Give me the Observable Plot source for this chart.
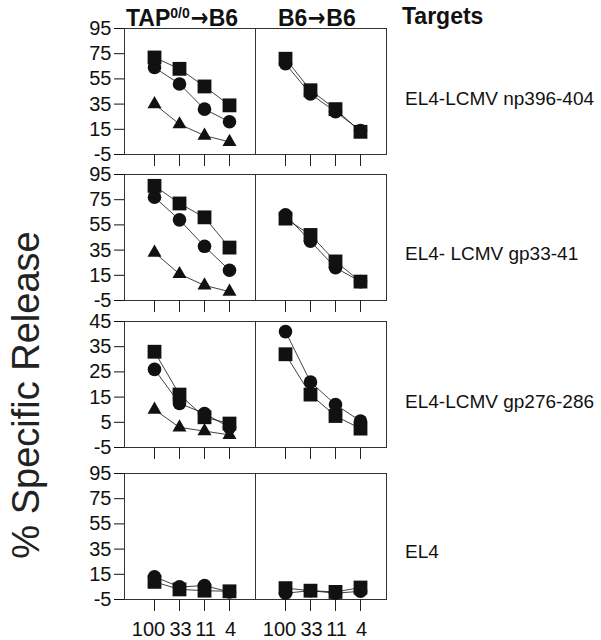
<!DOCTYPE html>
<html>
<head>
<meta charset="utf-8">
<script src="https://cdn.jsdelivr.net/npm/d3@7"></script>
<script src="https://cdn.jsdelivr.net/npm/@observablehq/plot@0.6"></script>
<style>
  html, body { margin: 0; padding: 0; background: white; }
  #wrap { position: relative; width: 601px; height: 640px; overflow: hidden; font-family: "Liberation Sans", Arial, sans-serif; color: #111; }
  .abs { position: absolute; white-space: nowrap; line-height: 1; }
  .head { font-weight: bold; font-size: 23px; }
  .arrow { font-family: "DejaVu Sans", sans-serif; font-weight: bold; font-size: 25px; display: inline-block; transform: scaleX(0.85); margin: 0 -1px; }
  .lab { font-size: 19px; }
  sup { font-size: 14px; vertical-align: 8px; line-height: 0; }
</style>
</head>
<body>
<div id="wrap">
  <div class="abs head" style="left:126px; top:5px;">TAP<sup>0/0</sup><span class="arrow">→</span>B6</div>
  <div class="abs head" style="left:278px; top:5px;">B6<span class="arrow">→</span>B6</div>
  <div class="abs head" style="left:402px; top:5px;">Targets</div>
  <div class="abs lab" style="left:405px; top:89px;">EL4-LCMV np396-404</div>
  <div class="abs lab" style="left:405px; top:244px;">EL4- LCMV gp33-41</div>
  <div class="abs lab" style="left:405px; top:392px;">EL4-LCMV gp276-286</div>
  <div class="abs lab" style="left:405px; top:542px;">EL4</div>
  <div class="abs" style="left:26px; top:395px; font-size:38px; color:#222; transform: translate(-50%,-50%) rotate(-90deg);">% Specific Release</div>
</div>
<script>
// Categories
const doses = ["100", "33", "11", "4"];
const donors = ["TAP0/0→B6", "B6→B6"];
const ticksWide = [-5, 15, 35, 55, 75, 95];
const ticksNarrow = [-5, 5, 15, 25, 35, 45];

// EL4-LCMV np396-404
const npTapSquare   = [72, 63, 49, 34];
const npTapCircle   = [64, 51, 31, 21];
const npTapTriangle = [35, 19, 10, 5];
const npB6Square    = [71, 46, 31, 13];
const npB6Circle    = [67, 43, 29, 14];

// EL4- LCMV gp33-41
const gpTapSquare   = [86, 72, 61, 37];
const gpTapCircle   = [77, 59, 38, 19];
const gpTapTriangle = [33, 16, 7, 2];
const gpB6Square    = [60, 47, 26, 10];
const gpB6Circle    = [63, 42, 21, 10];

// EL4-LCMV gp276-286
const g276TapSquare   = [33, 16, 7, 4.5];
const g276TapCircle   = [26, 12.5, 8.5, 3];
const g276TapTriangle = [10, 3, 1.5, 0];
const g276B6Square    = [32, 16, 7.5, 2.5];
const g276B6Circle    = [41, 21, 12, 5.5];

// EL4
const el4TapSquare = [9, 3, 2, 1.5];
const el4TapCircle = [13, 5, 6, 1];
const el4B6Square  = [4, 2, 1, 4.5];
const el4B6Circle  = [0, 2, 0, 1.5];

function build(spec) {
  const rows = [];
  for (const [donor, series, values] of spec) {
    values.forEach((v, i) => rows.push({donor, series, dose: doses[i], value: v}));
  }
  return rows;
}

const rowSpecs = [
  {top: 28, domain: [-5, 95], ticks: ticksWide, showX: false, rows: build([
    [donors[0], "square", npTapSquare], [donors[0], "circle", npTapCircle], [donors[0], "triangle", npTapTriangle],
    [donors[1], "square", npB6Square], [donors[1], "circle", npB6Circle]])},
  {top: 174, domain: [-5, 95], ticks: ticksWide, showX: false, rows: build([
    [donors[0], "square", gpTapSquare], [donors[0], "circle", gpTapCircle], [donors[0], "triangle", gpTapTriangle],
    [donors[1], "square", gpB6Square], [donors[1], "circle", gpB6Circle]])},
  {top: 321, domain: [-5, 45], ticks: ticksNarrow, showX: false, rows: build([
    [donors[0], "square", g276TapSquare], [donors[0], "circle", g276TapCircle], [donors[0], "triangle", g276TapTriangle],
    [donors[1], "square", g276B6Square], [donors[1], "circle", g276B6Circle]])},
  {top: 473, domain: [-5, 95], ticks: ticksWide, showX: true, rows: build([
    [donors[0], "square", el4TapSquare], [donors[0], "circle", el4TapCircle],
    [donors[1], "square", el4B6Square], [donors[1], "circle", el4B6Circle]])}
];

const wrap = document.getElementById("wrap");
for (const spec of rowSpecs) {
  const mt = 10, mb = spec.showX ? 45 : 22;
  const rows = spec.rows;
  const marks = [
    Plot.frame({stroke: "#333", strokeWidth: 1}),
    Plot.axisX(doses, {tickSize: 12, tickFormat: () => "", label: null, stroke: "#222"}),
    Plot.line(rows, {x: "dose", y: "value", z: "series", stroke: "#111", strokeWidth: 0.8}),
    Plot.dot(rows, {filter: d => d.series === "circle", x: "dose", y: "value", symbol: "circle", r: 6.8, fill: "#111", stroke: "none"}),
    Plot.dot(rows, {filter: d => d.series === "square", x: "dose", y: "value", symbol: "square", r: 7.8, fill: "#111", stroke: "none"}),
    Plot.dot(rows, {filter: d => d.series === "triangle", x: "dose", y: "value", symbol: "triangle", r: 5.2, fill: "#111", stroke: "none"})
  ];
  if (spec.showX) {
    marks.push(Plot.axisX(doses.slice(0, 1), {tickSize: 0, tickPadding: 22, dx: -6, label: null, fontSize: 20}));
    marks.push(Plot.axisX(doses.slice(1), {tickSize: 0, tickPadding: 22, dx: 1, label: null, fontSize: 20}));
  }
  const chart = Plot.plot({
    width: 601,
    height: 126 + mt + mb,
    marginTop: mt,
    marginBottom: mb,
    marginLeft: 123,
    marginRight: 215,
    style: {fontFamily: "'Liberation Sans', Arial, sans-serif", fontSize: "20px", background: "transparent", overflow: "visible", color: "#111"},
    facet: {data: rows, x: "donor"},
    fx: {domain: donors, padding: 0, axis: null},
    x: {type: "point", domain: doses, padding: 0.95, insetLeft: 4},
    y: {domain: spec.domain, ticks: spec.ticks, tickSize: 10, tickPadding: 3, label: null, tickFormat: d => String(d)},
    marks
  });
  chart.style.position = "absolute";
  chart.style.left = "0px";
  chart.style.top = (spec.top - mt) + "px";
  wrap.appendChild(chart);
}
</script>
</body>
</html>
